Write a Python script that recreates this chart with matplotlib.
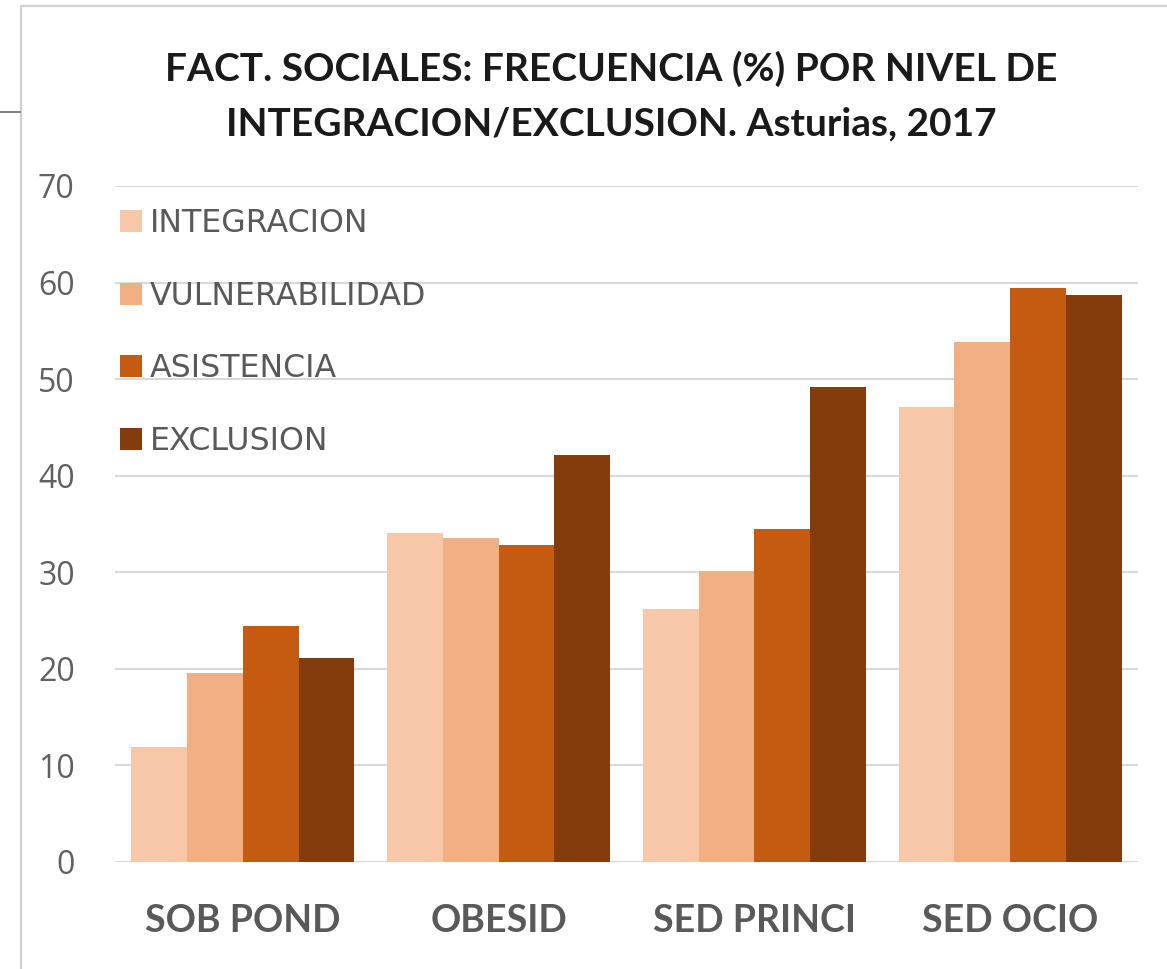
import matplotlib
matplotlib.use("Agg")
import matplotlib.pyplot as plt
import numpy as np
from matplotlib.patches import Rectangle
from matplotlib.lines import Line2D

categories = ["SOB POND", "OBESID", "SED PRINCI", "SED OCIO"]
series_names = ["INTEGRACION", "VULNERABILIDAD", "ASISTENCIA", "EXCLUSION"]
integracion = [11.9, 34.1, 26.2, 47.1]
vulnerabilidad = [19.6, 33.5, 30.1, 53.8]
asistencia = [24.4, 32.8, 34.5, 59.4]
exclusion = [21.1, 42.1, 49.2, 58.7]
yticks = [0, 10, 20, 30, 40, 50, 60, 70]
colors = ["#F6C8A8", "#F2AF84", "#C55A11", "#843C0C"]
title = "FACT. SOCIALES: FRECUENCIA (%) POR NIVEL DE\nINTEGRACION/EXCLUSION. Asturias, 2017"

W, H = 1167, 969
fig = plt.figure(figsize=(W / 100, H / 100), dpi=100)
fig.patch.set_facecolor("white")

# outer frame
fig.add_artist(Rectangle((21 / W, -0.1), 1.2, 1 - 6 / H + 0.1, transform=fig.transFigure,
                         fill=False, edgecolor="#D0D0D0", linewidth=1.6))
fig.add_artist(Line2D([0, 20 / W], [1 - 112 / H, 1 - 112 / H], transform=fig.transFigure,
                      color="#7F7F7F", linewidth=1.4))

ax = fig.add_axes([115 / W, 1 - 862 / H, (1138 - 115) / W, (862 - 186) / H])
data = [integracion, vulnerabilidad, asistencia, exclusion]
x = np.arange(len(categories))
bw = 0.218
for i, (vals, name, c) in enumerate(zip(data, series_names, colors)):
    ax.bar(x + (i - 1.5) * bw, vals, width=bw, color=c, label=name, zorder=2)

ax.set_xlim(-0.5, len(categories) - 0.5)
ax.set_ylim(0, 70)
ax.set_yticks(yticks)
ax.set_yticklabels([str(t) for t in yticks], fontsize=23, color="#606060", family="Open Sans")
ax.set_xticks(x)
ax.set_xticklabels(categories, fontsize=27, color="#595959", fontweight="bold", family="Lato")
ax.tick_params(axis="y", length=0, pad=29)
ax.tick_params(axis="x", length=0, pad=30)
ax.grid(axis="y", color="#D9D9D9", linewidth=1.5, zorder=0)
ax.set_axisbelow(True)
for s in ax.spines.values():
    s.set_visible(False)

fig.text(611 / W, 1 - 96 / H, title, ha="center", va="center", fontsize=28,
         fontweight="bold", family="Lato", color="#1A1A1A", linespacing=1.66)

leg = ax.legend(loc="upper left", bbox_to_anchor=(0.005, 0.967),
                frameon=False, prop={"family": "DejaVu Sans", "size": 22.8},
                labelcolor="#595959", handlelength=0.7, handleheight=0.7,
                handletextpad=0.25, labelspacing=1.31, borderaxespad=0, borderpad=0)

fig.savefig("out.png", dpi=100)
